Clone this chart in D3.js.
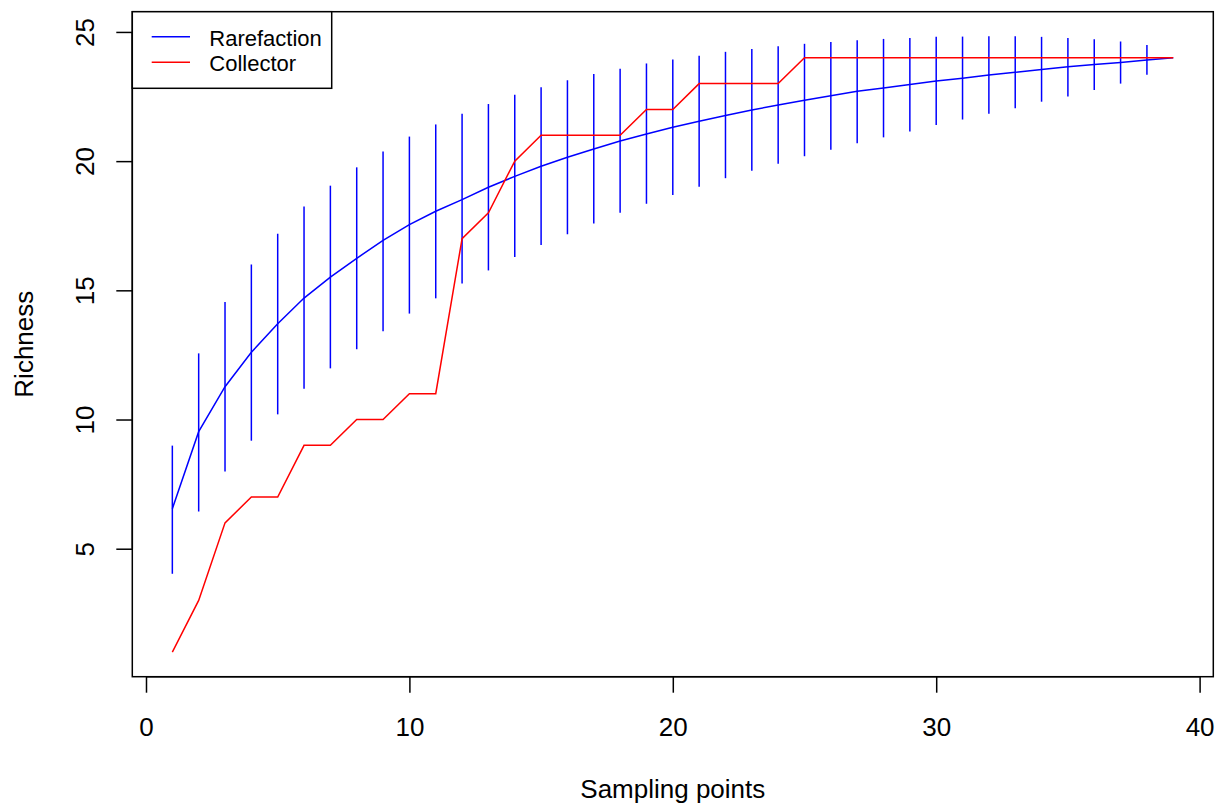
<!DOCTYPE html>
<html>
<head>
<meta charset="utf-8">
<script src="https://cdn.jsdelivr.net/npm/d3@7"></script>
<style>
  html, body { margin: 0; padding: 0; background: #fff; }
  svg { display: block; }
  text { font-family: "Liberation Sans", Arial, Helvetica, sans-serif; fill: #000; }
</style>
</head>
<body>
<svg id="chart" width="1221" height="807"></svg>
<script>
// ---- Data ----
const samplingPoints = d3.range(1, 40); // 1..39

const rarefactionMean = [6.55, 9.53, 11.27, 12.6, 13.71, 14.70, 15.51, 16.24, 16.93, 17.54,
  18.06, 18.51, 18.99, 19.41, 19.80, 20.15, 20.47, 20.78, 21.05, 21.31,
  21.54, 21.77, 21.98, 22.17, 22.36, 22.53, 22.70, 22.83, 22.97, 23.10,
  23.21, 23.33, 23.44, 23.55, 23.65, 23.74, 23.82, 23.91, 24.0];

const rarefactionUpper = [8.99, 12.56, 14.55, 16.0, 17.19, 18.24, 19.05, 19.76, 20.37, 20.95,
  21.42, 21.83, 22.21, 22.57, 22.86, 23.13, 23.37, 23.58, 23.78, 23.93,
  24.08, 24.23, 24.34, 24.45, 24.54, 24.61, 24.68, 24.73, 24.77, 24.81,
  24.82, 24.83, 24.83, 24.81, 24.77, 24.72, 24.63, 24.49, 24.0];

const rarefactionLower = [4.03, 6.44, 7.99, 9.18, 10.20, 11.19, 11.98, 12.72, 13.42, 14.10,
  14.69, 15.26, 15.77, 16.29, 16.75, 17.17, 17.59, 18.0, 18.35, 18.69,
  19.01, 19.34, 19.63, 19.90, 20.19, 20.44, 20.69, 20.92, 21.15, 21.40,
  21.61, 21.83, 22.05, 22.30, 22.50, 22.75, 23.0, 23.34, 24.0];

const collector = [1, 3, 6, 7, 7, 9, 9, 10, 10, 11,
  11, 17, 18, 20, 21, 21, 21, 21, 22, 22,
  23, 23, 23, 23, 24, 24, 24, 24, 24, 24,
  24, 24, 24, 24, 24, 24, 24, 24, 24];

const xTicks = [0, 10, 20, 30, 40];
const yTicks = [5, 10, 15, 20, 25];
const legendLabels = ["Rarefaction", "Collector"];
const legendColors = ["#0000FF", "#FF0000"];
const xTitle = "Sampling points";
const yTitle = "Richness";

// ---- Layout ----
const plot = { left: 132.3, right: 1213.3, top: 11.7, bottom: 676.7 };
const axisFont = 26, legendFont = 22;
const lw = 1.5;

const svg = d3.select("#chart");

// R-style 4% padding of data range
const xExt = d3.extent(samplingPoints);
const xPad = (xExt[1] - xExt[0]) * 0.04;
const yMin = d3.min([d3.min(collector), d3.min(rarefactionLower)]);
const yMax = d3.max([d3.max(collector), d3.max(rarefactionUpper)]);
const yPad = (yMax - yMin) * 0.04;

const x = d3.scaleLinear().domain([xExt[0] - xPad, xExt[1] + xPad]).range([plot.left, plot.right]);
const y = d3.scaleLinear().domain([yMin - yPad, yMax + yPad]).range([plot.bottom, plot.top]);

const rows = samplingPoints.map((p, i) => ({
  p, mean: rarefactionMean[i], lo: rarefactionLower[i], hi: rarefactionUpper[i], col: collector[i]
}));

// Rarefaction mean line
svg.append("path")
  .datum(rows)
  .attr("fill", "none")
  .attr("stroke", legendColors[0])
  .attr("stroke-width", lw)
  .attr("d", d3.line().x(d => x(d.p)).y(d => y(d.mean)));

// Error bars
svg.append("g").selectAll("line")
  .data(rows.filter(d => d.hi > d.lo))
  .join("line")
  .attr("x1", d => x(d.p)).attr("x2", d => x(d.p))
  .attr("y1", d => y(d.lo)).attr("y2", d => y(d.hi))
  .attr("stroke", legendColors[0])
  .attr("stroke-width", lw);

// Collector line
svg.append("path")
  .datum(rows)
  .attr("fill", "none")
  .attr("stroke", legendColors[1])
  .attr("stroke-width", lw)
  .attr("d", d3.line().x(d => x(d.p)).y(d => y(d.col)));

// Box
svg.append("rect")
  .attr("x", plot.left).attr("y", plot.top)
  .attr("width", plot.right - plot.left).attr("height", plot.bottom - plot.top)
  .attr("fill", "none").attr("stroke", "#000").attr("stroke-width", 1.5);

// X axis
const xAxis = svg.append("g")
  .attr("transform", `translate(0,${plot.bottom})`)
  .call(d3.axisBottom(x).tickValues(xTicks).tickSize(16).tickSizeOuter(0).tickFormat(d3.format("d")));
xAxis.select(".domain").remove();
xAxis.selectAll(".tick line").attr("stroke", "#000").attr("stroke-width", lw);
xAxis.selectAll(".tick text")
  .attr("y", 59).attr("dy", null)
  .style("font-size", axisFont + "px")
  .style("font-family", '"Liberation Sans", Arial, sans-serif');
xAxis.append("line")
  .attr("x1", x(xTicks[0])).attr("x2", x(xTicks[xTicks.length - 1]))
  .attr("stroke", "#000").attr("stroke-width", lw);

// Y axis
const yAxis = svg.append("g")
  .attr("transform", `translate(${plot.left},0)`)
  .call(d3.axisLeft(y).tickValues(yTicks).tickSize(16).tickSizeOuter(0).tickFormat(d3.format("d")));
yAxis.select(".domain").remove();
yAxis.selectAll(".tick line").attr("stroke", "#000").attr("stroke-width", lw);
yAxis.selectAll(".tick text")
  .attr("x", null).attr("dy", null)
  .attr("text-anchor", "middle")
  .attr("transform", "translate(-38.5,0) rotate(-90)")
  .style("font-size", axisFont + "px")
  .style("font-family", '"Liberation Sans", Arial, sans-serif');
yAxis.append("line")
  .attr("y1", y(yTicks[0])).attr("y2", y(yTicks[yTicks.length - 1]))
  .attr("stroke", "#000").attr("stroke-width", lw);

// Axis titles
svg.append("text")
  .attr("x", (plot.left + plot.right) / 2).attr("y", 798)
  .attr("text-anchor", "middle")
  .style("font-size", axisFont + "px")
  .text(xTitle);

svg.append("text")
  .attr("transform", `translate(33,${(plot.top + plot.bottom) / 2}) rotate(-90)`)
  .attr("text-anchor", "middle")
  .style("font-size", axisFont + "px")
  .text(yTitle);

// Legend
const legend = svg.append("g");
legend.append("rect")
  .attr("x", plot.left).attr("y", plot.top)
  .attr("width", 331.7 - plot.left).attr("height", 88.3 - plot.top)
  .attr("fill", "#fff").attr("stroke", "#000").attr("stroke-width", 1.5);
const legendY = [36.7, 62.3];
legendLabels.forEach((lab, i) => {
  legend.append("line")
    .attr("x1", 151.7).attr("x2", 190)
    .attr("y1", legendY[i]).attr("y2", legendY[i])
    .attr("stroke", legendColors[i]).attr("stroke-width", lw);
  legend.append("text")
    .attr("x", 209.3).attr("y", legendY[i] + 8.9)
    .style("font-size", legendFont + "px")
    .text(lab);
});
</script>
</body>
</html>
